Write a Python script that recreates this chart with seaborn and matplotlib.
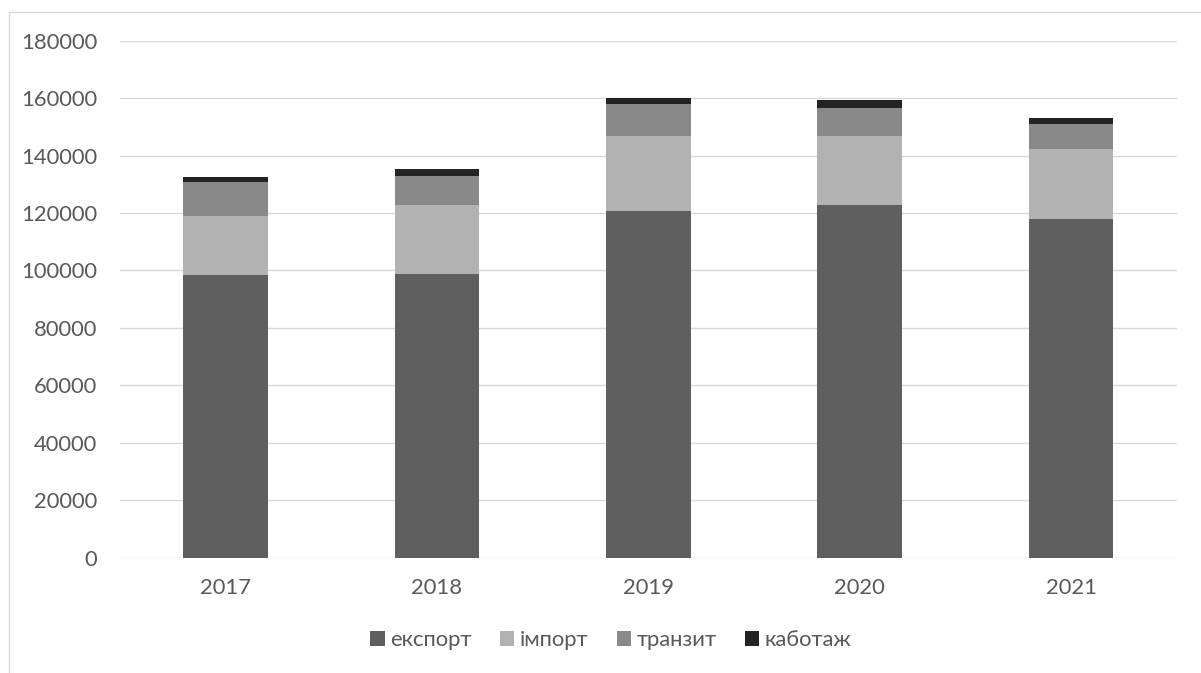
import matplotlib
matplotlib.use("Agg")
import matplotlib.pyplot as plt
from matplotlib.patches import Patch, Rectangle
import seaborn as sns
import pandas as pd
import numpy as np

years = ["2017", "2018", "2019", "2020", "2021"]
export_vals = [98400, 98800, 120700, 122900, 117900]
import_vals = [20500, 24000, 26100, 23900, 24400]
transit_vals = [11900, 10100, 11100, 9900, 8700]
cabotage_vals = [1600, 2300, 2100, 2500, 2200]
series_names = ["експорт", "імпорт", "транзит", "каботаж"]
colors = ["#5f5f5f", "#b2b2b2", "#898989", "#232323"]
y_ticks = [0, 20000, 40000, 60000, 80000, 100000, 120000, 140000, 160000, 180000]

sns.set_theme(style="white")
plt.rcParams["font.family"] = ["Lato", "DejaVu Sans"]

W, H = 1201, 673
fig = plt.figure(figsize=(W / 100, H / 100), dpi=100)
ax = fig.add_axes([120 / W, 1 - 557.5 / H, (1176.7 - 120) / W, (557.5 - 40.7) / H])

df = pd.DataFrame({
    "year": years,
    "експорт": export_vals,
    "імпорт": import_vals,
    "транзит": transit_vals,
    "каботаж": cabotage_vals,
})
cum = df[series_names].cumsum(axis=1)

# draw from top of stack down so lower segments overlay
for name, col in reversed(list(zip(series_names, colors))):
    sns.barplot(x=df["year"], y=cum[name], color=col, width=0.4,
                linewidth=0, saturation=1, ax=ax, zorder=3)

ax.set_ylim(0, 180000)
ax.set_yticks(y_ticks)
ax.set_yticklabels([str(t) for t in y_ticks])
ax.set_xlim(-0.5, len(years) - 0.5)
ax.yaxis.grid(True, color="#d9d9d9", linewidth=1.0, zorder=0)
ax.set_axisbelow(True)
for s in ax.spines.values():
    s.set_visible(False)
ax.set_xlabel("")
ax.set_ylabel("")
ax.tick_params(axis="both", length=0, labelsize=15.8, labelcolor="#595959")
ax.tick_params(axis="y", pad=16.5)
ax.tick_params(axis="x", pad=14.5)

handles = [Patch(facecolor=c, edgecolor="none", label=n) for n, c in zip(series_names, colors)]
fig.legend(handles=handles, loc="center", bbox_to_anchor=(611 / W, 1 - 640 / H), ncol=4,
           frameon=False, fontsize=15.8, labelcolor="#595959", handlelength=0.65,
           handleheight=0.65, handletextpad=0.25, columnspacing=1.3)

fig.patches.append(Rectangle((8.5 / W, -0.1), 1.2, (673 - 11.5) / H + 0.1, fill=False,
                             edgecolor="#d9d9d9", linewidth=1.0, transform=fig.transFigure,
                             figure=fig))

fig.savefig("out.png", dpi=100, facecolor="white")
